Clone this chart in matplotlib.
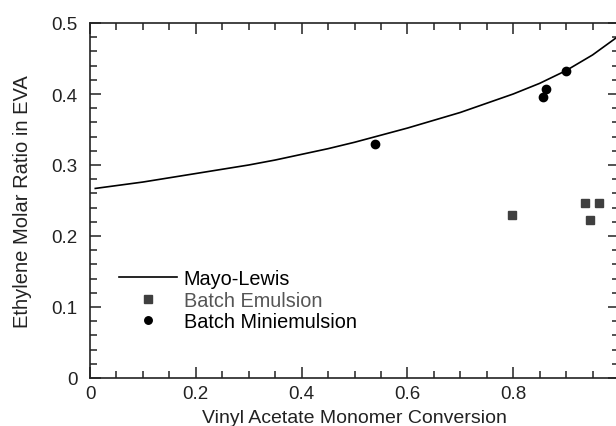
import numpy as np
import matplotlib
matplotlib.use('Agg')
import matplotlib.pyplot as plt
from matplotlib.ticker import MultipleLocator, FuncFormatter

plt.rcParams['font.family'] = ['Liberation Sans', 'DejaVu Sans']

# Mayo-Lewis curve
ml_x = [0.01, 0.05, 0.1, 0.15, 0.2, 0.25, 0.3, 0.35, 0.4, 0.45, 0.5, 0.55, 0.6,
        0.65, 0.7, 0.75, 0.8, 0.85, 0.9, 0.95, 1.0]
ml_y = [0.267, 0.271, 0.276, 0.282, 0.288, 0.294, 0.300, 0.307, 0.315, 0.323,
        0.332, 0.342, 0.352, 0.363, 0.374, 0.387, 0.400, 0.415, 0.433, 0.455, 0.482]

# Batch emulsion (squares)
em_x = [0.798, 0.936, 0.962, 0.946]
em_y = [0.230, 0.247, 0.247, 0.222]

# Batch miniemulsion (circles)
mini_x = [0.538, 0.857, 0.862, 0.900]
mini_y = [0.330, 0.396, 0.407, 0.433]

fig = plt.figure(figsize=(6.16, 4.27), dpi=100)
ax = fig.add_axes([90 / 616, 1 - 379 / 427, 529 / 616, 355 / 427])

ax.plot(ml_x, ml_y, color='black', lw=1.2, label='Mayo-Lewis')
ax.plot(em_x, em_y, ls='none', marker='s', ms=6, color='#3f3f3f', label='Batch Emulsion')
ax.plot(mini_x, mini_y, ls='none', marker='o', ms=6, color='black', label='Batch Miniemulsion')

ax.set_xlim(0, 1)
ax.set_ylim(0, 0.5)
ax.xaxis.set_major_locator(MultipleLocator(0.2))
ax.xaxis.set_minor_locator(MultipleLocator(0.05))
ax.yaxis.set_major_locator(MultipleLocator(0.1))
ax.yaxis.set_minor_locator(MultipleLocator(0.02))
# the 1.0 label falls outside the cropped picture
xfmt = FuncFormatter(lambda v, p: '0' if abs(v) < 1e-9 else ('' if v > 0.99 else '%.1f' % v))
yfmt = FuncFormatter(lambda v, p: '0' if abs(v) < 1e-9 else ('%.1f' % v))
ax.xaxis.set_major_formatter(xfmt)
ax.yaxis.set_major_formatter(yfmt)
ax.tick_params(which='both', direction='in', top=True, right=True, width=1.1,
               labelsize=13.5, colors='#222222')
ax.tick_params(which='major', length=8)
ax.tick_params(which='minor', length=5)
ax.tick_params(axis='x', which='major', pad=5)
ax.tick_params(axis='y', which='major', pad=9)
for s in ax.spines.values():
    s.set_linewidth(1.2)
    s.set_color('#222222')

ax.set_xlabel('Vinyl Acetate Monomer Conversion', fontsize=14, color='#222222', labelpad=5)
ax.set_ylabel('Ethylene Molar Ratio in EVA', fontsize=14.5, color='#222222', labelpad=14)

leg = ax.legend(loc='upper left', bbox_to_anchor=(0.036, 0.335), frameon=False,
                fontsize=14.3, handlelength=2.9, handletextpad=0.35,
                labelspacing=0.13, borderpad=0, markerscale=0.9)
leg.get_texts()[1].set_color('#555555')

fig.savefig('out.png', dpi=100)
